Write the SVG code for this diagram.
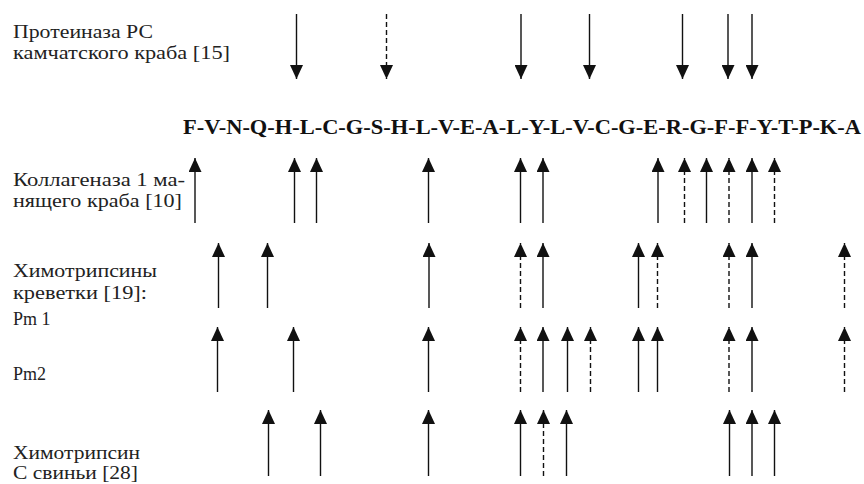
<svg xmlns="http://www.w3.org/2000/svg" width="864" height="484" viewBox="0 0 864 484">
<style>
.lbl{font-family:"Liberation Serif","Times New Roman",serif;font-size:18px;fill:#222}
.seq{font-family:"Liberation Serif","Times New Roman",serif;font-size:22px;font-weight:bold;fill:#111}
.s{stroke:#111;stroke-width:1.4;fill:none;marker-end:url(#ah)}
.d{stroke:#111;stroke-width:1.4;fill:none;stroke-dasharray:5 3;marker-end:url(#ah)}
</style>
<defs>
<marker id="ah" viewBox="0 0 14 13" refX="14" refY="6.5" markerWidth="14" markerHeight="13" markerUnits="userSpaceOnUse" orient="auto">
<path d="M0,0 L14,6.5 L0,13 Z" fill="#111"/>
</marker>
</defs>
<rect width="864" height="484" fill="#fff"/>
<g id="labels">
<text class="lbl" x="13" y="38" textLength="140" lengthAdjust="spacingAndGlyphs">Протеиназа РС</text>
<text class="lbl" x="13" y="59" textLength="217" lengthAdjust="spacingAndGlyphs">камчатского краба [15]</text>
<text class="lbl" x="13" y="186" textLength="172" lengthAdjust="spacingAndGlyphs">Коллагеназа 1 ма-</text>
<text class="lbl" x="13" y="207" textLength="169" lengthAdjust="spacingAndGlyphs">нящего краба [10]</text>
<text class="lbl" x="13" y="277" textLength="144" lengthAdjust="spacingAndGlyphs">Химотрипсины</text>
<text class="lbl" x="13" y="299" textLength="134" lengthAdjust="spacingAndGlyphs">креветки [19]:</text>
<text class="lbl" x="13" y="325">Pm 1</text>
<text class="lbl" x="13" y="380">Pm2</text>
<text class="lbl" x="13" y="459" textLength="127" lengthAdjust="spacingAndGlyphs">Химотрипсин</text>
<text class="lbl" x="13" y="479" textLength="125" lengthAdjust="spacingAndGlyphs">С свиньи [28]</text>
</g>
<g id="sequence">
<text class="seq" x="183" y="134" textLength="678" lengthAdjust="spacingAndGlyphs">F-V-N-Q-H-L-C-G-S-H-L-V-E-A-L-Y-L-V-C-G-E-R-G-F-F-Y-T-P-K-A</text>
</g>
<g id="connectors">
<g id="row-proteinase">
<line class="s" x1="296.5" y1="14" x2="296.5" y2="79"/>
<line class="d" x1="386.5" y1="14" x2="386.5" y2="79"/>
<line class="s" x1="521" y1="14" x2="521" y2="79"/>
<line class="s" x1="589.5" y1="14" x2="589.5" y2="79"/>
<line class="s" x1="682.5" y1="14" x2="682.5" y2="79"/>
<line class="s" x1="728" y1="14" x2="728" y2="79"/>
<line class="s" x1="752" y1="14" x2="752" y2="79"/>
</g>
<g id="row-collagenase">
<line class="s" x1="195" y1="223" x2="195" y2="158"/>
<line class="s" x1="294.5" y1="223" x2="294.5" y2="158"/>
<line class="s" x1="316.5" y1="223" x2="316.5" y2="158"/>
<line class="s" x1="428.5" y1="223" x2="428.5" y2="158"/>
<line class="s" x1="520.5" y1="223" x2="520.5" y2="158"/>
<line class="s" x1="543" y1="223" x2="543" y2="158"/>
<line class="s" x1="658" y1="223" x2="658" y2="158"/>
<line class="d" x1="684.5" y1="223" x2="684.5" y2="158"/>
<line class="s" x1="706.5" y1="223" x2="706.5" y2="158"/>
<line class="d" x1="729" y1="223" x2="729" y2="158"/>
<line class="s" x1="752" y1="223" x2="752" y2="158"/>
<line class="d" x1="774.5" y1="223" x2="774.5" y2="158"/>
</g>
<g id="row-pm1">
<line class="s" x1="218.5" y1="308" x2="218.5" y2="243"/>
<line class="s" x1="267.5" y1="308" x2="267.5" y2="243"/>
<line class="s" x1="429" y1="308" x2="429" y2="243"/>
<line class="d" x1="520.5" y1="308" x2="520.5" y2="243"/>
<line class="s" x1="543" y1="308" x2="543" y2="243"/>
<line class="s" x1="638.5" y1="308" x2="638.5" y2="243"/>
<line class="d" x1="657.5" y1="308" x2="657.5" y2="243"/>
<line class="d" x1="729" y1="308" x2="729" y2="243"/>
<line class="s" x1="752" y1="308" x2="752" y2="243"/>
<line class="d" x1="844.5" y1="308" x2="844.5" y2="243"/>
</g>
<g id="row-pm2">
<line class="s" x1="217.5" y1="392" x2="217.5" y2="327"/>
<line class="s" x1="293.5" y1="392" x2="293.5" y2="327"/>
<line class="s" x1="428.5" y1="392" x2="428.5" y2="327"/>
<line class="d" x1="520.5" y1="392" x2="520.5" y2="327"/>
<line class="s" x1="543" y1="392" x2="543" y2="327"/>
<line class="s" x1="567.5" y1="392" x2="567.5" y2="327"/>
<line class="d" x1="590.5" y1="392" x2="590.5" y2="327"/>
<line class="s" x1="638.5" y1="392" x2="638.5" y2="327"/>
<line class="s" x1="657.5" y1="392" x2="657.5" y2="327"/>
<line class="d" x1="729" y1="392" x2="729" y2="327"/>
<line class="s" x1="752" y1="392" x2="752" y2="327"/>
<line class="d" x1="844.5" y1="392" x2="844.5" y2="327"/>
</g>
<g id="row-chymotrypsin-c">
<line class="s" x1="268.5" y1="476" x2="268.5" y2="410"/>
<line class="s" x1="320.5" y1="476" x2="320.5" y2="410"/>
<line class="s" x1="428.5" y1="476" x2="428.5" y2="410"/>
<line class="s" x1="520.5" y1="476" x2="520.5" y2="410"/>
<line class="d" x1="543.5" y1="476" x2="543.5" y2="410"/>
<line class="s" x1="566.5" y1="476" x2="566.5" y2="410"/>
<line class="s" x1="729.5" y1="476" x2="729.5" y2="410"/>
<line class="s" x1="752" y1="476" x2="752" y2="410"/>
<line class="s" x1="774.5" y1="476" x2="774.5" y2="410"/>
</g>
</g>
</svg>
